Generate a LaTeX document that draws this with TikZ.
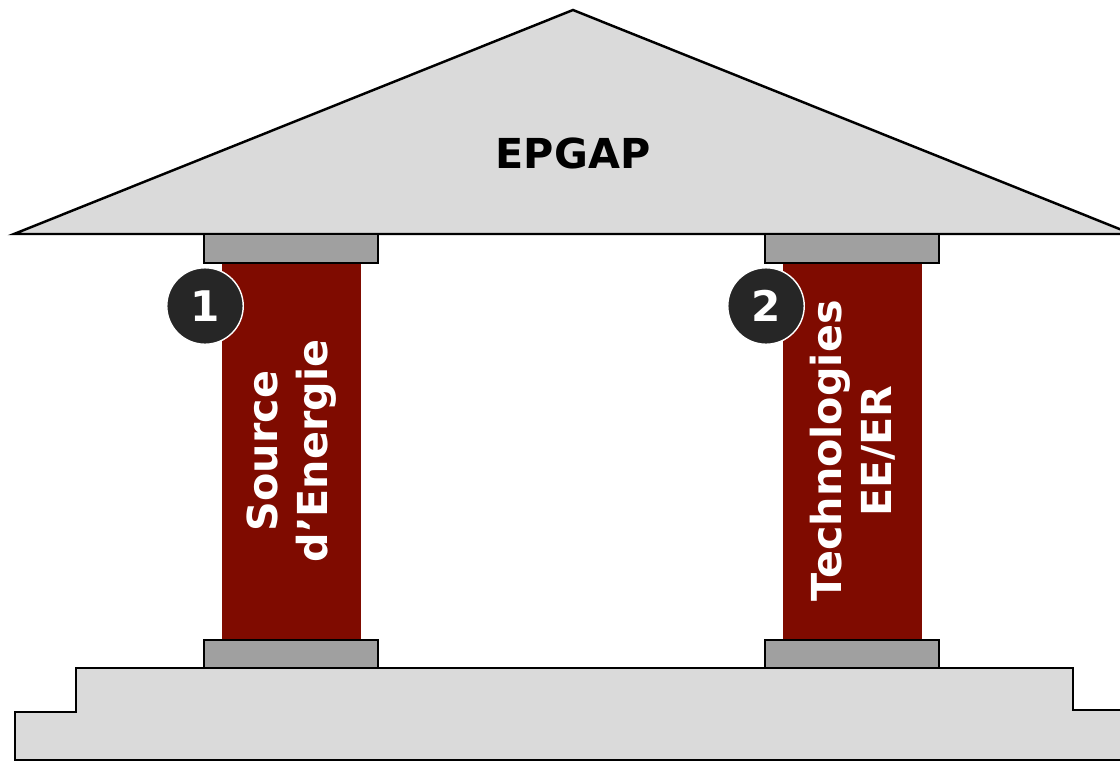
\documentclass[tikz,border=0pt]{standalone}
\usepackage{fontspec}
\setmainfont{DejaVu Sans}
\definecolor{roofgray}{RGB}{218,218,218}
\definecolor{capgray}{RGB}{160,160,160}
\definecolor{pillarred}{RGB}{127,11,0}
\definecolor{badge}{RGB}{38,38,38}
\tikzset{
  stone/.style={draw=black,line width=1.4pt,fill=roofgray},
  capital/.style={draw=black,line width=1.4pt,fill=capgray},
  pillartext/.style={rotate=90,align=center,text=white,font=\fontsize{23.5}{28.5}\selectfont\bfseries},
  number/.style={circle,fill=badge,draw=white,line width=0.8pt,minimum size=1.53cm,inner sep=0pt,text=white,font=\fontsize{24}{28}\selectfont\bfseries}
}
\begin{document}
\begin{tikzpicture}[x=0.02cm,y=-0.02cm]
\useasboundingbox (0,0) rectangle (1120,762);
% roof
\draw [stone] (14,234) -- (573,10) -- (1132,234) -- cycle;
\node (title) at (573,153) {\fontsize{23.5}{28}\selectfont\bfseries EPGAP};
% base
\draw [stone] (15,760) -- (15,712) -- (76,712) -- (76,668) -- (1073,668) -- (1073,710) -- (1140,710) -- (1140,760) -- cycle;
% pillars
\fill [pillarred] (222,263) rectangle (361,640);
\fill [pillarred] (783,263) rectangle (922,640);
\draw [capital] (204,234) rectangle (378,263);
\draw [capital] (204,640) rectangle (378,668);
\draw [capital] (765,234) rectangle (939,263);
\draw [capital] (765,640) rectangle (939,668);
\node [pillartext] (source) at (292,451) {Source\\d'Energie};
\node [pillartext] (techno) at (853,451) {Technologies\\EE/ER};
% numbers
\node [number] (one) at (205,306) {1};
\node [number] (two) at (766,306) {2};
\end{tikzpicture}
\end{document}
